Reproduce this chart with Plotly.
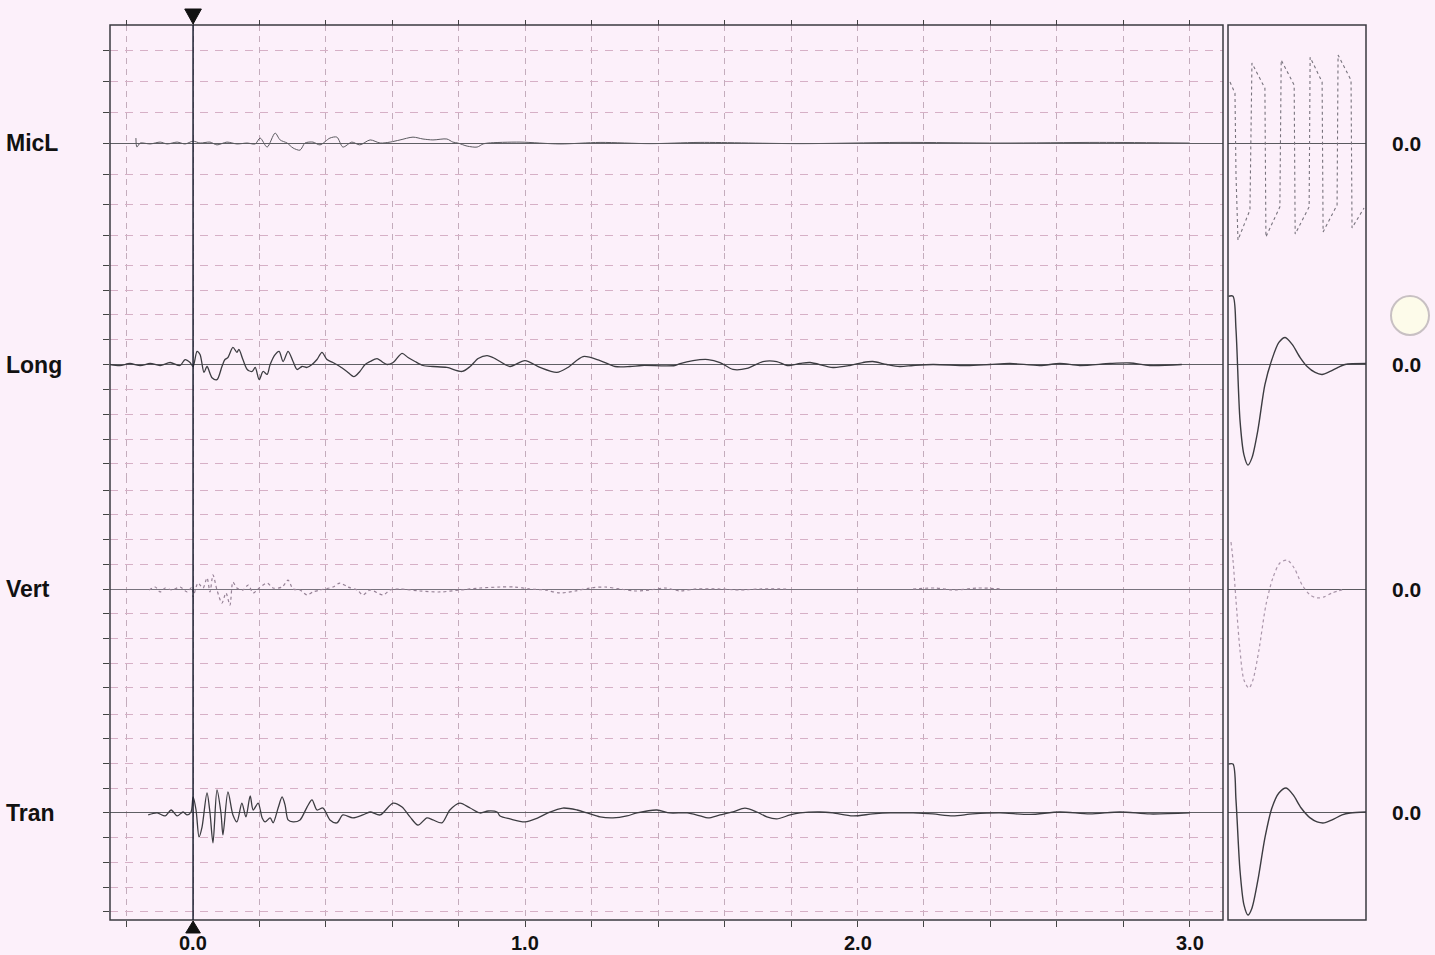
import plotly.graph_objects as go

# ---------------- data (time in s, amplitude in grid divisions) ----------------
channels = ["MicL", "Long", "Vert", "Tran"]

micl_t = [-0.172, -0.169, -0.159, -0.129, -0.099, -0.078, -0.048, -0.024, 0.000, 0.021, 0.051, 0.072,
          0.102, 0.132, 0.163, 0.187, 0.202, 0.223, 0.247, 0.262, 0.283, 0.301, 0.322, 0.337, 0.361,
          0.382, 0.412, 0.433, 0.451, 0.478, 0.502, 0.533, 0.563, 0.593, 0.623, 0.662, 0.692, 0.722,
          0.764, 0.782, 0.797, 0.825, 0.855, 0.873, 0.888, 0.984, 1.104, 1.225, 1.375, 1.526, 1.827,
          2.128, 2.429, 2.729, 3.000]
micl_a = [0.16, -0.13, 0.0, -0.03, 0.03, -0.03, 0.03, -0.03, 0.06, 0.0, 0.03, -0.06,
          0.03, -0.03, 0.0, -0.03, 0.16, -0.13, 0.32, 0.10, 0.0, -0.16, -0.23, 0.0, 0.03,
          -0.06, 0.16, 0.19, -0.13, 0.03, -0.06, 0.10, 0.0, 0.03, 0.10, 0.19, 0.13, 0.10,
          0.13, 0.03, 0.0, -0.10, -0.13, -0.03, 0.0, 0.03, -0.03, 0.02, -0.02, 0.02, -0.02,
          0.02, 0.0, 0.02, 0.0]

long_t = [-0.250, -0.220, -0.190, -0.159, -0.129, -0.099, -0.069, -0.039, -0.024, -0.009, 0.000, 0.012,
          0.021, 0.033, 0.042, 0.057, 0.072, 0.087, 0.096, 0.105, 0.120, 0.132, 0.138, 0.150, 0.163,
          0.178, 0.187, 0.199, 0.211, 0.223, 0.232, 0.247, 0.259, 0.271, 0.286, 0.301, 0.313, 0.328,
          0.343, 0.358, 0.373, 0.388, 0.403, 0.421, 0.442, 0.463, 0.484, 0.502, 0.518, 0.533, 0.554,
          0.572, 0.584, 0.602, 0.629, 0.647, 0.668, 0.692, 0.722, 0.764, 0.810, 0.834, 0.858, 0.885,
          0.909, 0.924, 0.954, 0.999, 1.044, 1.095, 1.128, 1.174, 1.225, 1.270, 1.315, 1.351, 1.450,
          1.466, 1.505, 1.550, 1.586, 1.625, 1.667, 1.715, 1.757, 1.788, 1.827, 1.857, 1.926, 1.977,
          2.016, 2.046, 2.088, 2.127, 2.167, 2.227, 2.329, 2.398, 2.459, 2.549, 2.609, 2.669, 2.760,
          2.820, 2.880, 2.976]
long_a = [0.0, -0.04, 0.04, -0.04, 0.04, -0.04, 0.08, -0.04, 0.20, 0.08, -0.08, 0.53,
          0.40, -0.32, -0.08, -0.53, -0.61, -0.08, 0.20, 0.28, 0.69, 0.49, 0.61, 0.20, -0.20,
          -0.28, -0.12, -0.61, -0.28, -0.40, 0.0, 0.40, 0.53, 0.12, 0.53, 0.12, -0.20, -0.08,
          -0.12, 0.0, 0.20, 0.49, 0.20, 0.08, -0.08, -0.28, -0.49, -0.28, 0.0, 0.12, 0.24,
          0.08, 0.0, 0.08, 0.45, 0.28, 0.12, -0.04, -0.08, -0.12, -0.28, -0.08, 0.24, 0.36,
          0.24, 0.12, -0.08, 0.16, -0.12, -0.32, -0.12, 0.32, 0.16, -0.08, -0.08, -0.04, -0.04,
          0.04, 0.16, 0.20, 0.08, -0.20, -0.16, 0.12, 0.12, -0.04, 0.04, 0.08, -0.12, -0.04,
          0.08, 0.12, 0.0, -0.08, -0.04, 0.0, -0.04, 0.0, 0.04, -0.04, 0.04, -0.04, 0.04,
          0.06, -0.04, 0.0]

vert_t = [-0.132, -0.114, -0.099, -0.084, -0.063, -0.039, -0.018, -0.003, 0.000, 0.015, 0.030, 0.042,
          0.051, 0.060, 0.072, 0.087, 0.099, 0.111, 0.120, 0.132, 0.150, 0.166, 0.181, 0.199, 0.223,
          0.241, 0.268, 0.286, 0.301, 0.322, 0.343, 0.361, 0.382, 0.421, 0.442, 0.466, 0.494, 0.511,
          0.533, 0.572, 0.593, 0.623, 0.683, 0.743, 0.803, 0.864, 0.924, 0.969, 1.014, 1.059, 1.104,
          1.150, 1.195, 1.240, 1.285, 1.330, 1.375, 1.420, 1.466, 1.511, 1.586, 1.646, 1.706, 1.785,
          1.900, 2.167, 2.233, 2.293, 2.362, 2.435]
vert_a = [-0.04, 0.08, -0.12, 0.04, -0.04, 0.08, -0.12, 0.08, -0.32, 0.24, 0.04, 0.45,
          -0.12, 0.57, -0.04, -0.57, -0.16, -0.65, 0.28, 0.04, -0.04, 0.16, -0.16, 0.04, 0.24,
          0.04, 0.08, 0.36, 0.0, -0.04, -0.24, -0.12, -0.04, 0.08, 0.24, 0.08, -0.04, -0.24,
          -0.04, -0.24, -0.04, 0.0, -0.08, -0.12, -0.04, 0.04, 0.08, 0.08, 0.0, -0.04, -0.16,
          -0.08, 0.04, 0.08, 0.0, -0.08, -0.04, 0.04, -0.08, 0.0, 0.0, -0.04, 0.0, 0.0,
          None, 0.0, 0.04, -0.04, 0.04, 0.0]

tran_t = [-0.135, -0.108, -0.084, -0.066, -0.048, -0.030, -0.018, -0.006, 0.000, 0.009, 0.018, 0.027,
          0.042, 0.051, 0.060, 0.072, 0.084, 0.090, 0.105, 0.120, 0.132, 0.147, 0.159, 0.172, 0.181,
          0.196, 0.208, 0.217, 0.232, 0.241, 0.256, 0.268, 0.277, 0.286, 0.301, 0.322, 0.343, 0.358,
          0.373, 0.391, 0.412, 0.433, 0.451, 0.481, 0.511, 0.533, 0.563, 0.602, 0.629, 0.653, 0.677,
          0.704, 0.722, 0.749, 0.773, 0.803, 0.834, 0.864, 0.888, 0.915, 0.924, 0.954, 0.999, 1.038,
          1.068, 1.113, 1.156, 1.186, 1.225, 1.264, 1.306, 1.336, 1.396, 1.435, 1.487, 1.526, 1.550,
          1.586, 1.625, 1.661, 1.697, 1.727, 1.757, 1.797, 1.827, 1.887, 1.926, 1.986, 2.046, 2.098,
          2.167, 2.227, 2.287, 2.347, 2.429, 2.519, 2.609, 2.699, 2.790, 2.880, 3.000]
tran_a = [-0.08, 0.0, -0.12, 0.12, -0.12, 0.04, -0.08, 0.04, 0.65, 0.12, -0.97, -0.57,
          0.81, 0.0, -1.21, 0.93, 0.0, -0.89, 0.85, -0.08, -0.36, 0.40, -0.16, 0.69, 0.12,
          0.40, -0.20, -0.36, -0.20, -0.40, 0.20, 0.65, 0.32, -0.28, -0.36, -0.28, 0.24, 0.53,
          0.12, 0.20, -0.28, -0.40, -0.08, -0.20, -0.08, 0.04, -0.08, 0.40, 0.24, -0.16, -0.49,
          -0.20, -0.28, -0.40, 0.12, 0.40, 0.20, 0.0, 0.08, 0.04, -0.12, -0.24, -0.36, -0.20,
          0.0, 0.20, 0.12, 0.0, -0.16, -0.20, -0.12, 0.0, 0.12, 0.0, 0.0, -0.12, -0.20,
          -0.08, 0.04, 0.20, 0.04, -0.16, -0.24, -0.08, 0.0, 0.04, 0.0, -0.12, -0.04, 0.0,
          0.0, -0.04, -0.12, -0.04, 0.0, -0.06, 0.04, -0.04, 0.04, -0.04, 0.0]

# calibration panel (time from start of calibration, s)
cal_micl_t = [0.006, 0.021, 0.024, 0.030, 0.066, 0.069, 0.072, 0.111, 0.113, 0.114, 0.156, 0.158, 0.160,
              0.199, 0.201, 0.202, 0.244, 0.246, 0.247, 0.283, 0.285, 0.286, 0.328, 0.330, 0.331,
              0.370, 0.372, 0.373, 0.409]
cal_micl_a = [1.97, 1.61, -1.0, -3.13, -2.16, 0.2, 2.58, 1.77, -0.6, -3.03, -2.06, 0.3, 2.68,
              1.87, -0.5, -2.94, -2.06, 0.3, 2.77, 1.97, -0.4, -2.87, -2.00, 0.4, 2.84,
              2.03, -0.3, -2.74, -2.10]

cal_long_t = [0.0015, 0.015, 0.024, 0.036, 0.048, 0.060, 0.072, 0.090, 0.111, 0.132, 0.153, 0.172,
              0.193, 0.217, 0.238, 0.262, 0.283, 0.307, 0.331, 0.352, 0.415]
cal_long_a = [2.75, 2.75, 1.42, -2.23, -3.64, -4.05, -3.76, -2.63, -0.81, 0.20, 0.89, 1.09,
              0.81, 0.28, -0.08, -0.32, -0.40, -0.28, -0.12, 0.0, 0.04]

cal_vert_t = [0.009, 0.015, 0.024, 0.036, 0.048, 0.063, 0.075, 0.093, 0.114, 0.135, 0.156, 0.178,
              0.199, 0.223, 0.247, 0.268, 0.289, 0.313, 0.352]
cal_vert_a = [1.90, 1.17, -0.45, -2.47, -3.68, -4.01, -3.68, -2.47, -0.65, 0.45, 1.05, 1.17,
              0.85, 0.16, -0.24, -0.36, -0.32, -0.16, 0.0]

cal_tran_t = [0.0015, 0.015, 0.024, 0.036, 0.048, 0.060, 0.072, 0.090, 0.111, 0.132, 0.153, 0.175,
              0.196, 0.220, 0.247, 0.268, 0.289, 0.313, 0.343, 0.367, 0.415]
cal_tran_a = [1.98, 1.98, 0.53, -2.31, -3.72, -4.13, -3.85, -2.71, -1.01, 0.20, 0.81, 1.01,
              0.73, 0.20, -0.20, -0.36, -0.40, -0.28, -0.08, 0.0, 0.04]

zero_labels = ["0.0", "0.0", "0.0", "0.0"]
x_tickvals = [-0.2, 0.0, 0.2, 0.4, 0.6, 0.8, 1.0, 1.2, 1.4, 1.6, 1.8, 2.0, 2.2, 2.4, 2.6, 2.8, 3.0]
x_ticktext = ["", "0.0", "", "", "", "", "1.0", "", "", "", "", "2.0", "", "", "", "", "3.0"]

# ---------------- layout geometry ----------------
W, H = 1435, 955
ML, MR, MT, MB = 110, 69, 25, 35
PW = W - ML - MR
PH = H - MT - MB


def py(ypix):
    return (H - MB - ypix) / PH


def px(xpix):
    return (xpix - ML) / PW


main_dom = [0, px(1223)]
cal_dom = [px(1228), 1]

# band pixel bounds -> domains ; ranges in divisions
bands = [(25, 253), (253, 477), (477, 701), (701, 920)]
ranges = [[-3.55, 3.81], [-4.53, 4.49], [-4.53, 4.53], [-4.33, 4.53]]

BG = "#fcf0fa"
GRID_H = "rgb(214,176,198)"
GRID_V = "rgb(196,172,188)"

fig = go.Figure()

main_series = [(micl_t, micl_a), (long_t, long_a), (vert_t, vert_a), (tran_t, tran_a)]
cal_series = [(cal_micl_t, cal_micl_a), (cal_long_t, cal_long_a), (cal_vert_t, cal_vert_a),
              (cal_tran_t, cal_tran_a)]
styles = [
    dict(color="rgb(90,90,95)", width=1, dash="solid"),
    dict(color="rgb(60,60,65)", width=1.3, dash="solid"),
    dict(color="rgb(150,130,150)", width=1.2, dash="dot"),
    dict(color="rgb(60,60,65)", width=1.3, dash="solid"),
]
cal_styles = [
    dict(color="rgb(120,115,125)", width=1.1, dash="dot"),
    dict(color="rgb(60,60,65)", width=1.4, dash="solid"),
    dict(color="rgb(170,150,170)", width=1.2, dash="dot"),
    dict(color="rgb(60,60,65)", width=1.4, dash="solid"),
]

for i, name in enumerate(channels):
    yid = "" if i == 0 else str(i + 1)
    ycal = str(i + 5)
    t, a = main_series[i]
    fig.add_trace(go.Scatter(x=t, y=a, mode="lines", name=name, xaxis="x", yaxis="y" + yid,
                             line=dict(shape="spline", smoothing=0.8, **styles[i]),
                             connectgaps=False, showlegend=False, hoverinfo="skip"))
    ct, ca = cal_series[i]
    fig.add_trace(go.Scatter(x=ct, y=ca, mode="lines", name=name + " cal", xaxis="x2", yaxis="y" + ycal,
                             line=dict(shape="linear" if i == 0 else "spline", smoothing=0.8, **cal_styles[i]),
                             showlegend=False, hoverinfo="skip"))

layout = dict(
    width=W, height=H, margin=dict(l=ML, r=MR, t=MT, b=MB, autoexpand=False),
    paper_bgcolor=BG, plot_bgcolor=BG, hovermode=False, showlegend=False,
    font=dict(family="Liberation Sans, Arial", color="#111"),
    xaxis=dict(domain=main_dom, range=[-0.25, 3.1], anchor="y4", tickmode="array",
               tickvals=x_tickvals, ticks="outside", ticklen=6, showticklabels=False,
               tickcolor="#444", showgrid=True, gridcolor=GRID_V, griddash="6px,5px",
               gridwidth=1, zeroline=False, showline=False, automargin=False),
    xaxis2=dict(domain=cal_dom, range=[0, 0.415], anchor="y8", showgrid=False, zeroline=False,
                showticklabels=False, ticks="", showline=False, automargin=False),
    xaxis3=dict(domain=main_dom, range=[-0.25, 3.1], overlaying="x", side="top", anchor="free",
                position=1, tickmode="array", tickvals=x_tickvals, ticks="outside", ticklen=5,
                tickcolor="#444", showticklabels=False, showgrid=False, zeroline=False,
                automargin=False),
)

for i in range(4):
    y0p, y1p = bands[i]
    dom = [py(y1p), py(y0p)]
    key = "yaxis" if i == 0 else "yaxis%d" % (i + 1)
    layout[key] = dict(domain=dom, range=ranges[i], anchor="x", tick0=0, dtick=1,
                       ticks="outside", ticklen=6, tickcolor="#444", showticklabels=False,
                       showgrid=True, gridcolor=GRID_H, griddash="8px,7px", gridwidth=1,
                       zeroline=True, zerolinecolor="rgb(95,95,100)" if i != 2 else "rgb(120,115,125)",
                       zerolinewidth=1.2, showline=False, automargin=False)
    layout["yaxis%d" % (i + 5)] = dict(domain=dom, range=ranges[i], anchor="x2", showgrid=False,
                                       showticklabels=False, ticks="", zeroline=True,
                                       zerolinecolor="rgb(90,90,95)", zerolinewidth=1.2, showline=False,
                                       automargin=False)

fig.update_layout(**layout)
fig.add_trace(go.Scatter(x=[None], y=[None], xaxis="x3", yaxis="y", showlegend=False))

shapes = [
    dict(type="rect", xref="paper", yref="paper", x0=main_dom[0], x1=main_dom[1], y0=0, y1=1,
         line=dict(color="#3a3a40", width=1.5)),
    dict(type="rect", xref="paper", yref="paper", x0=cal_dom[0], x1=cal_dom[1], y0=0, y1=1,
         line=dict(color="#3a3a40", width=1.5)),
    dict(type="line", xref="x", yref="paper", x0=0, x1=0, y0=0, y1=1,
         line=dict(color="#1c2030", width=1.5)),
    dict(type="path", xref="x", yref="paper",
         path="M -0.025,%f L 0.025,%f L 0,%f Z" % (py(9), py(9), py(24)),
         fillcolor="#111", line=dict(color="#111", width=1)),
    dict(type="path", xref="x", yref="paper",
         path="M -0.022,%f L 0.022,%f L 0,%f Z" % (py(933), py(933), py(921)),
         fillcolor="#111", line=dict(color="#111", width=1)),
    dict(type="circle", xref="paper", yref="paper", x0=px(1391), x1=px(1429), y0=py(335), y1=py(296),
         fillcolor="#fdfbea", line=dict(color="rgb(200,192,195)", width=2)),
]
fig.update_layout(shapes=shapes)

annotations = []
for i, name in enumerate(channels):
    yref = "y" if i == 0 else "y%d" % (i + 1)
    annotations.append(dict(text=name, xref="paper", yref=yref, x=px(4), y=0, xanchor="left",
                            yanchor="middle", showarrow=False,
                            font=dict(size=23, weight="bold", color="#111")))
    annotations.append(dict(text=zero_labels[i], xref="paper", yref=yref, x=px(1406), y=0,
                            xanchor="center", yanchor="middle", showarrow=False,
                            font=dict(size=21, weight="bold", color="#111")))
for tv, tt in zip(x_tickvals, x_ticktext):
    if tt:
        annotations.append(dict(text=tt, xref="x", yref="paper", x=tv, y=py(942.5), xanchor="center",
                                yanchor="middle", showarrow=False,
                                font=dict(size=20, weight="bold", color="#111")))
fig.update_layout(annotations=annotations)

fig.write_html("out.html")
